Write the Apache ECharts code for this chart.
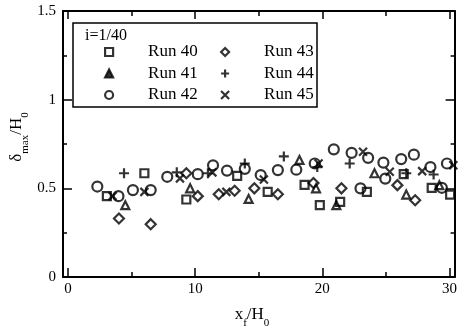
<!DOCTYPE html>
<html>
<head>
<meta charset="utf-8">
<script src="https://cdn.jsdelivr.net/npm/echarts@6/dist/echarts.min.js"></script>
<style>
html,body{margin:0;padding:0;background:#fff;}
#chart{width:460px;height:330px;}
</style>
</head>
<body>
<div id="chart"></div>
<script>
// ---- data (x_f/H0, delta_max/H0) ----
const run40 = [[3.05,0.456],[6.0,0.585],[9.3,0.437],[13.3,0.57],[15.7,0.48],[18.6,0.52],[19.8,0.405],[21.4,0.424],[23.5,0.48],[26.4,0.58],[28.6,0.503],[30.05,0.465]];
const run41 = [[4.5,0.405],[9.6,0.5],[14.2,0.44],[18.2,0.66],[19.5,0.5],[21.1,0.405],[24.1,0.585],[26.6,0.465],[29.2,0.518]];
const run42 = [[2.3,0.51],[3.96,0.456],[5.1,0.49],[6.5,0.49],[7.8,0.565],[10.2,0.58],[11.4,0.63],[12.5,0.6],[13.9,0.61],[15.15,0.575],[16.5,0.603],[17.95,0.605],[19.4,0.64],[20.9,0.72],[22.3,0.70],[23.0,0.5],[23.6,0.672],[24.8,0.645],[24.95,0.555],[26.2,0.665],[27.2,0.69],[28.5,0.62],[29.4,0.503],[29.8,0.64]];
const run43 = [[4.0,0.33],[6.5,0.298],[9.3,0.585],[10.2,0.456],[11.85,0.467],[13.1,0.486],[14.65,0.5],[16.5,0.467],[19.3,0.53],[21.5,0.5],[25.9,0.518],[27.3,0.433]];
const run44 = [[4.4,0.585],[8.55,0.59],[11.0,0.585],[13.9,0.64],[16.97,0.68],[19.6,0.62],[22.15,0.64],[26.6,0.585],[28.75,0.578]];
const run45 = [[3.5,0.456],[6.0,0.48],[8.8,0.556],[11.35,0.59],[12.45,0.48],[15.4,0.55],[19.7,0.64],[23.2,0.706],[25.3,0.593],[27.85,0.597],[30.3,0.63]];

const seriesNames = ['Run 40','Run 41','Run 42','Run 43','Run 44','Run 45'];
const xMajorTicks = [0,10,20,30];
const xMinorTicks = [5,15,25];
const yTickLabels = {'0':'0','0.5':'0.5','1':'1','1.5':'1.5'};
const legendNote = 'i=1/40';

const FONT = "'Liberation Serif','Times New Roman',serif";
const chart = echarts.init(document.getElementById('chart'), null, {renderer:'canvas'});

const XMIN = -0.4, XMAX = 30.4;
function xAx(pos, ticks, len, showLine, labels){
  return {
    type:'value', position:pos, min:XMIN, max:XMAX,
    axisLine:{show:showLine, onZero:false, lineStyle:{color:'#000', width:2}},
    axisTick:{show:true, inside:true, length:len, customValues:ticks, lineStyle:{color:'#000', width:1.5}},
    axisLabel:{show:!!labels, customValues:labels||[], margin:5, color:'#000', fontFamily:FONT, fontSize:15},
    splitLine:{show:false}
  };
}
function yAx(pos, labels){
  return {
    type:'value', position:pos, min:0, max:1.5, interval:0.5,
    axisLine:{show:true, onZero:false, lineStyle:{color:'#000', width:2}},
    axisTick:{show:true, inside:true, length:9, lineStyle:{color:'#000', width:1.5}},
    minorTick:{show:true, splitNumber:2, length:4, lineStyle:{color:'#000', width:1.5}},
    axisLabel:{show:labels, margin:7, color:'#000', fontFamily:FONT, fontSize:15,
      formatter:v => yTickLabels[String(v)] ?? String(v)},
    splitLine:{show:false}
  };
}

const stroke = {color:'transparent', borderColor:'#000', borderWidth:2.2};
const plusPath = 'path://M0,5L10,5M5,0L5,10';
const crossPath = 'path://M0,0L10,10M10,0L0,10';
const diamondPath = 'path://M5,0L10,5L5,10L0,5Z';

function sc(name, data, symbol, size){
  return {
    name, type:'scatter', data, symbol, symbolSize:size,
    itemStyle:Object.assign({}, stroke), emphasis:{disabled:true}
  };
}

const legendBase = {
  orient:'vertical', itemWidth:8, itemHeight:8, itemGap:4.5, padding:0, selectedMode:false,
  textStyle:{fontFamily:FONT, fontSize:17, color:'#000', padding:[0,0,0,30]},
  itemStyle:{color:'transparent', borderColor:'#000', borderWidth:2.2}
};

const rich = {
  a:{fontFamily:FONT, fontSize:17, lineHeight:17, verticalAlign:'top', fill:'#000'},
  s:{fontFamily:FONT, fontSize:11, lineHeight:11, padding:[11,0,0,0], verticalAlign:'top', fill:'#000'}
};

chart.setOption({
  animation:false,
  backgroundColor:'#fff',
  grid:{left:63, right:-2, top:11, bottom:53},
  xAxis:[
    xAx('bottom', xMajorTicks, 9, true, xMajorTicks),
    xAx('bottom', xMinorTicks, 5, false, null),
    xAx('top', xMajorTicks, 8, true, null),
    xAx('top', xMinorTicks, 5, false, null)
  ],
  yAxis:[ yAx('left', true), yAx('right', false) ],
  legend:[
    Object.assign({}, legendBase, {left:104, top:43.5, data:[
      {name:seriesNames[0]}, {name:seriesNames[1], itemStyle:{color:'#000'}}, {name:seriesNames[2]}]}),
    Object.assign({}, legendBase, {left:220, top:43.5, data:[
      {name:seriesNames[3]}, {name:seriesNames[4]}, {name:seriesNames[5]}]})
  ],
  graphic:[
    {type:'rect', shape:{x:73, y:23, width:244, height:84}, style:{fill:'#fff', stroke:'#000', lineWidth:1.5}, z:1},
    {type:'text', x:85, y:28, style:{text:legendNote, font:"16px 'Liberation Serif', serif", fill:'#000'}, z:2},
    {type:'text', x:252, y:315, style:{text:'{a|x}{s|f}{a|/H}{s|0}', rich:rich, align:'center', verticalAlign:'middle'}, z:2},
    {type:'text', x:17, y:137, rotation:Math.PI/2, style:{text:'{a|δ}{s|max}{a|/H}{s|0}', rich:rich, align:'center', verticalAlign:'middle'}, z:2}
  ],
  series:[
    sc(seriesNames[0], run40, 'rect', 8),
    sc(seriesNames[1], run41, 'triangle', 8),
    sc(seriesNames[2], run42, 'circle', 10),
    sc(seriesNames[3], run43, diamondPath, 10),
    sc(seriesNames[4], run44, plusPath, 10),
    sc(seriesNames[5], run45, crossPath, 8)
  ]
});
</script>
</body>
</html>
